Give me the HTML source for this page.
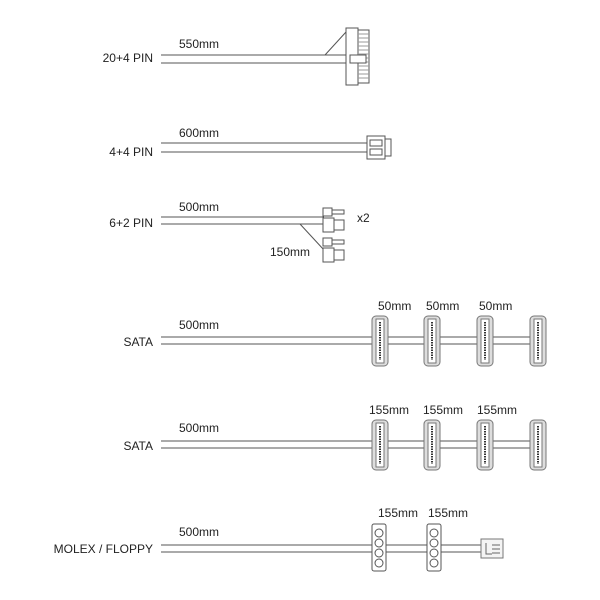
<!DOCTYPE html>
<html><head><style>body{margin:0;background:#fff}svg{display:block}text{font-family:"Liberation Sans",sans-serif;font-size:12px;fill:#222}</style></head><body>
<svg width="600" height="600" viewBox="0 0 600 600">
<g stroke="#555" stroke-width="1" fill="none">
<!-- row1 -->
<line x1="161" y1="55" x2="346" y2="55"/><line x1="161" y1="63" x2="346" y2="63"/>
<line x1="325" y1="55" x2="346" y2="32"/>
<rect x="346" y="28" width="12" height="57" fill="#fff"/>
<rect x="358" y="30" width="11" height="53" fill="#fff"/>
<path d="M358 34h11M358 38h11M358 42h11M358 46h11M358 50h11M358 54h11M358 58h11M358 62h11M358 66h11M358 70h11M358 74h11M358 78h11" stroke="#999"/>
<rect x="350" y="55" width="16" height="8" fill="#fff"/>
<!-- row2 -->
<line x1="161" y1="143" x2="368" y2="143"/><line x1="161" y1="152" x2="368" y2="152"/>
<rect x="367" y="136" width="18" height="23" fill="#fff"/>
<rect x="385" y="139" width="6" height="17" fill="#fff"/>
<rect x="370" y="140" width="12" height="6" fill="#fff"/><rect x="370" y="149" width="12" height="6" fill="#fff"/>
<!-- row3 -->
<line x1="161" y1="217" x2="324" y2="217"/><line x1="161" y1="224" x2="324" y2="224"/>
<line x1="300" y1="224" x2="324" y2="250"/>
<rect x="323" y="208" width="9" height="8" fill="#fff"/><rect x="332" y="210" width="12" height="4" fill="#fff"/>
<rect x="323" y="218" width="11" height="14" fill="#fff"/><rect x="334" y="220" width="10" height="10" fill="#fff"/>
<rect x="323" y="238" width="9" height="8" fill="#fff"/><rect x="332" y="240" width="12" height="4" fill="#fff"/>
<rect x="323" y="248" width="11" height="14" fill="#fff"/><rect x="334" y="250" width="10" height="10" fill="#fff"/>
<!-- SATA 1 -->
<line x1="161" y1="337" x2="540" y2="337"/><line x1="161" y1="344" x2="540" y2="344"/>
<!-- SATA 2 -->
<line x1="161" y1="441" x2="540" y2="441"/><line x1="161" y1="448" x2="540" y2="448"/>
<!-- molex -->
<line x1="161" y1="545" x2="482" y2="545"/><line x1="161" y1="552" x2="482" y2="552"/>
</g>
<defs>
<g id="sata">
<rect x="-8" y="0" width="16" height="50" rx="4" fill="#ddd" stroke="#777"/>
<rect x="-4" y="3" width="8" height="44" fill="#fff" stroke="#777"/>
<line x1="0" y1="6" x2="0" y2="44" stroke="#333" stroke-width="2" stroke-dasharray="1.5 1"/>
</g>
<g id="molex">
<rect x="-7" y="0" width="14" height="47" rx="2" fill="#fff" stroke="#555"/>
<circle cx="0" cy="9" r="4" fill="#fff" stroke="#555"/><circle cx="0" cy="19" r="4" fill="#fff" stroke="#555"/>
<circle cx="0" cy="29" r="4" fill="#fff" stroke="#555"/><circle cx="0" cy="39" r="4" fill="#fff" stroke="#555"/>
</g>
</defs>
<use href="#sata" x="380" y="316"/><use href="#sata" x="432" y="316"/><use href="#sata" x="485" y="316"/><use href="#sata" x="538" y="316"/>
<use href="#sata" x="380" y="420"/><use href="#sata" x="432" y="420"/><use href="#sata" x="485" y="420"/><use href="#sata" x="538" y="420"/>
<use href="#molex" x="379" y="524"/><use href="#molex" x="434" y="524"/>
<rect x="481" y="539" width="22" height="19" fill="#f4f4f4" stroke="#777"/>
<path d="M486 543v11h6M492 545h8M492 549h8M492 553h8" stroke="#666" fill="none"/>
<text x="153" y="62" text-anchor="end">20+4 PIN</text><text x="179" y="48">550mm</text>
<text x="153" y="156" text-anchor="end">4+4 PIN</text><text x="179" y="137">600mm</text>
<text x="153" y="227" text-anchor="end">6+2 PIN</text><text x="179" y="211">500mm</text>
<text x="357" y="222">x2</text><text x="270" y="256">150mm</text>
<text x="153" y="346" text-anchor="end">SATA</text><text x="179" y="329">500mm</text>
<text x="378" y="310">50mm</text><text x="426" y="310">50mm</text><text x="479" y="310">50mm</text>
<text x="153" y="450" text-anchor="end">SATA</text><text x="179" y="432">500mm</text>
<text x="369" y="414">155mm</text><text x="423" y="414">155mm</text><text x="477" y="414">155mm</text>
<text x="153" y="553" text-anchor="end">MOLEX / FLOPPY</text><text x="179" y="536">500mm</text>
<text x="378" y="517">155mm</text><text x="428" y="517">155mm</text>
</svg>
</body></html>
